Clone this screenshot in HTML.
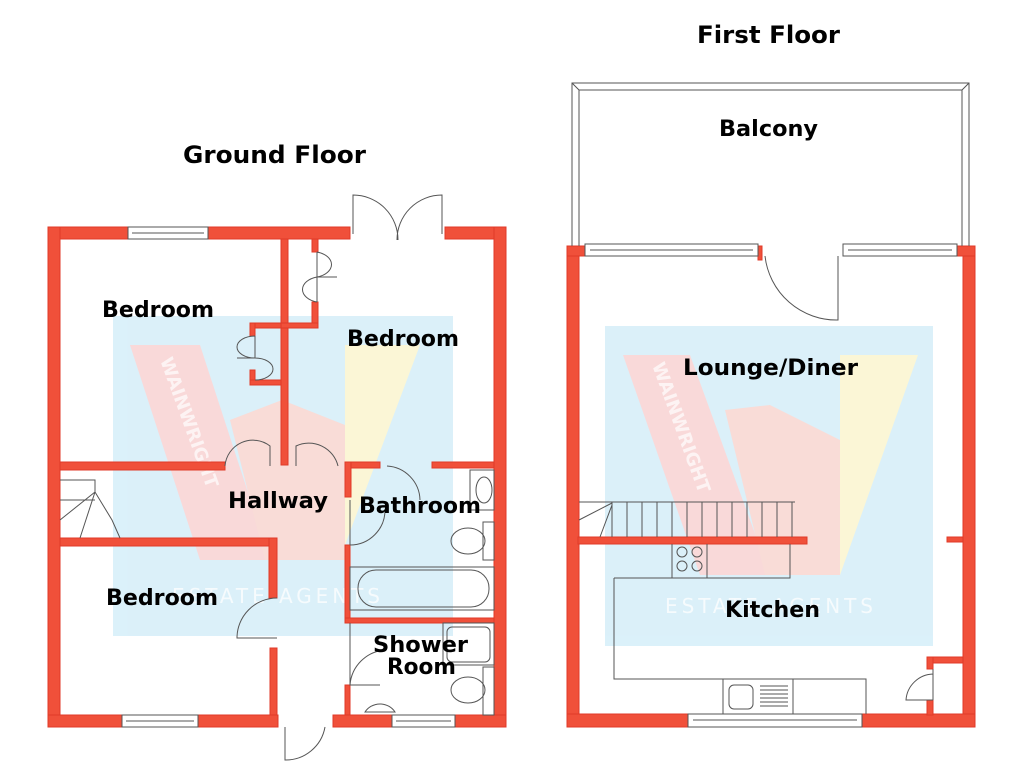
<!DOCTYPE html>
<html><head><meta charset="utf-8"><style>
html,body{margin:0;padding:0;background:#fff;width:1024px;height:768px;overflow:hidden}
svg text{font-family:"DejaVu Sans","Liberation Sans",sans-serif;font-weight:bold;fill:#000}
</style></head><body>
<svg width="1024" height="768" viewBox="0 0 1024 768" xmlns="http://www.w3.org/2000/svg">
<g opacity="0.85">
<rect x="113" y="316" width="340" height="320" fill="#d5eef9"/>
<polygon points="130,345 200,345 270,560 200,560" fill="#f9d3d3"/>
<polygon points="230,420 282,400 345,425 345,560 265,560" fill="#f8d6d1"/>
<polygon points="345,345 420,345 345,545" fill="#fbf5cf"/>
<rect x="605" y="326" width="328" height="320" fill="#d5eef9"/>
<polygon points="623,355 690,355 770,575 700,575" fill="#f9d3d3"/>
<polygon points="725,410 770,405 840,440 840,575 765,575" fill="#f8d6d1"/>
<polygon points="840,355 918,355 840,575" fill="#fbf5cf"/>
</g>
<text x="160" y="360" font-size="18" style="fill:#fff;opacity:.7" transform="rotate(70 160 360)">WAINWRIGHT</text>
<text x="172" y="603" font-size="20" style="fill:#fff;opacity:.75;font-weight:normal" textLength="208">ESTATE AGENTS</text>
<text x="652" y="365" font-size="18" style="fill:#fff;opacity:.7" transform="rotate(70 652 365)">WAINWRIGHT</text>
<text x="665" y="613" font-size="20" style="fill:#fff;opacity:.75;font-weight:normal" textLength="208">ESTATE AGENTS</text>

<g fill="#f0503a" stroke="#e03a28" stroke-width="1">
<rect x="48" y="227" width="80" height="12"/>
<rect x="208" y="227" width="142" height="12"/>
<rect x="445" y="227" width="61" height="12"/>
<rect x="48" y="227" width="12" height="500"/>
<rect x="494" y="227" width="12" height="500"/>
<rect x="48" y="715" width="74" height="12"/>
<rect x="198" y="715" width="80" height="12"/>
<rect x="333" y="715" width="59" height="12"/>
<rect x="455" y="715" width="51" height="12"/>
<rect x="281" y="239" width="7" height="226"/>
<rect x="312" y="239" width="6" height="13"/>
<rect x="312" y="302" width="6" height="26"/>
<rect x="281" y="323" width="37" height="5"/>
<rect x="250" y="323" width="31" height="5"/>
<rect x="250" y="323" width="5" height="13"/>
<rect x="250" y="370" width="5" height="15"/>
<rect x="250" y="380" width="31" height="5"/>
<rect x="60" y="462" width="165" height="8"/>
<rect x="345" y="462" width="35" height="6"/>
<rect x="345" y="462" width="6" height="35"/>
<rect x="432" y="462" width="62" height="6"/>
<rect x="345" y="545" width="5" height="75"/>
<rect x="345" y="618" width="149" height="5"/>
<rect x="345" y="685" width="5" height="30"/>
<rect x="60" y="538" width="215" height="8"/>
<rect x="269" y="538" width="8" height="60"/>
<rect x="270" y="648" width="7" height="67"/>
<rect x="567" y="246" width="12" height="481"/>
<rect x="963" y="246" width="12" height="481"/>
<rect x="567" y="246" width="18" height="10"/>
<rect x="957" y="246" width="18" height="10"/>
<rect x="758" y="246" width="4" height="14"/>
<rect x="567" y="714" width="121" height="13"/>
<rect x="862" y="714" width="113" height="13"/>
<rect x="578" y="537" width="229" height="7"/>
<rect x="947" y="537" width="16" height="5"/>
<rect x="927" y="657" width="36" height="6"/>
<rect x="927" y="657" width="6" height="12"/>
<rect x="927" y="700" width="6" height="15"/>
</g>

<g fill="none" stroke="#555" stroke-width="1">
<rect x="128" y="227" width="80" height="12"/><line x1="132" y1="233" x2="204" y2="233"/>
<rect x="122" y="715" width="76" height="12"/><line x1="126" y1="721" x2="194" y2="721"/>
<rect x="392" y="715" width="63" height="12"/><line x1="396" y1="721" x2="451" y2="721"/>
<path d="M353 234 L353 195 A45 45 0 0 1 398 240"/>
<path d="M442 234 L442 195 A45 45 0 0 0 397 240"/>
<path d="M317 252 L317 277 M317 252 A20 13 0 0 1 317 277 M317 277 L337 277 M317 302 L317 277 M317 302 A20 13 0 0 1 317 277"/>
<path d="M255 336 L255 358 M255 336 A18 11 0 0 0 255 358 M255 358 L237 358 M255 380 A18 11 0 0 0 255 358"/>
<path d="M225 466 A28 28 0 0 1 270 446 L270 466"/>
<path d="M296 466 L296 446 A30 30 0 0 1 338 466"/>
<path d="M387 466 A35 35 0 0 1 420 500"/>
<path d="M350 500 L350 545 M350 545 A35 35 0 0 0 385 510"/>
<path d="M277 598 A40 40 0 0 0 237 638 L277 638"/>
<path d="M350 623 L350 685 L380 685 M350 685 A38 38 0 0 1 385 650"/>
<path d="M285 727 L285 760 A40 40 0 0 0 325 727"/>
<path d="M60 480 L95 480 L95 492 M95 492 L60 520 M95 492 L80 538 M95 492 L112 520 L120 538 M60 500 L95 500"/>
<rect x="470" y="470" width="24" height="40"/><ellipse cx="484" cy="490" rx="8" ry="13"/>
<rect x="483" y="522" width="11" height="38"/><ellipse cx="468" cy="541" rx="17" ry="13"/>
<rect x="350" y="567" width="144" height="43"/><rect x="358" y="570" width="131" height="37" rx="18"/>
<rect x="443" y="623" width="51" height="42"/><rect x="447" y="627" width="43" height="35" rx="5"/>
<rect x="483" y="667" width="11" height="48"/><ellipse cx="468" cy="690" rx="17" ry="13"/>
<path d="M365 712 A18 18 0 0 1 395 712 Z"/>
<path d="M572 246 L572 83 L969 83 L969 246 M579 246 L579 90 L962 90 L962 246 M572 83 L579 90 M969 83 L962 90"/>
<rect x="585" y="244" width="173" height="12"/><line x1="590" y1="250" x2="753" y2="250"/>
<rect x="843" y="244" width="114" height="12"/><line x1="848" y1="250" x2="952" y2="250"/>
<path d="M765 256 A72 72 0 0 0 838 320 L838 256"/>
<path d="M579 502 L795 502 M612 502 L612 537 M579 520 L612 503 M600 537 L612 505"/>
<path d="M627 502V537M642 502V537M657 502V537M672 502V537M687 502V537M702 502V537M717 502V537M732 502V537M747 502V537M762 502V537M777 502V537M792 502V537"/>
<path d="M672 544 L672 578 L707 578 L707 544 M614 578 L790 578 L790 544 M614 578 L614 679 L866 679 L866 714 M723 679 L723 714 M793 679 L793 714"/>
<circle cx="682" cy="552" r="5"/><circle cx="697" cy="552" r="5"/><circle cx="682" cy="566" r="5"/><circle cx="697" cy="566" r="5"/>
<rect x="729" y="685" width="24" height="24" rx="5"/>
<path d="M760 686H788M760 690H788M760 694H788M760 698H788M760 702H788M760 706H788"/>
<rect x="688" y="714" width="174" height="13"/><line x1="693" y1="720" x2="857" y2="720"/>
<path d="M933 669 L933 700 M933 674 A28 28 0 0 0 906 700 L933 700"/>
</g>

<g>
<text x="183" y="163" font-size="24" textLength="183" lengthAdjust="spacingAndGlyphs">Ground Floor</text>
<text x="697" y="43" font-size="24" textLength="143" lengthAdjust="spacingAndGlyphs">First Floor</text>
<text x="102" y="317" font-size="22" textLength="112" lengthAdjust="spacingAndGlyphs">Bedroom</text>
<text x="347" y="346" font-size="22" textLength="112" lengthAdjust="spacingAndGlyphs">Bedroom</text>
<text x="228" y="508" font-size="22" textLength="100" lengthAdjust="spacingAndGlyphs">Hallway</text>
<text x="359" y="513" font-size="22" textLength="122" lengthAdjust="spacingAndGlyphs">Bathroom</text>
<text x="106" y="605" font-size="22" textLength="112" lengthAdjust="spacingAndGlyphs">Bedroom</text>
<text x="373" y="652" font-size="22" textLength="95" lengthAdjust="spacingAndGlyphs">Shower</text>
<text x="387" y="674" font-size="22" textLength="69" lengthAdjust="spacingAndGlyphs">Room</text>
<text x="719" y="136" font-size="22" textLength="99" lengthAdjust="spacingAndGlyphs">Balcony</text>
<text x="683" y="375" font-size="22" textLength="175" lengthAdjust="spacingAndGlyphs">Lounge/Diner</text>
<text x="725" y="617" font-size="22" textLength="95" lengthAdjust="spacingAndGlyphs">Kitchen</text>
</g>
</svg>
</body></html>
